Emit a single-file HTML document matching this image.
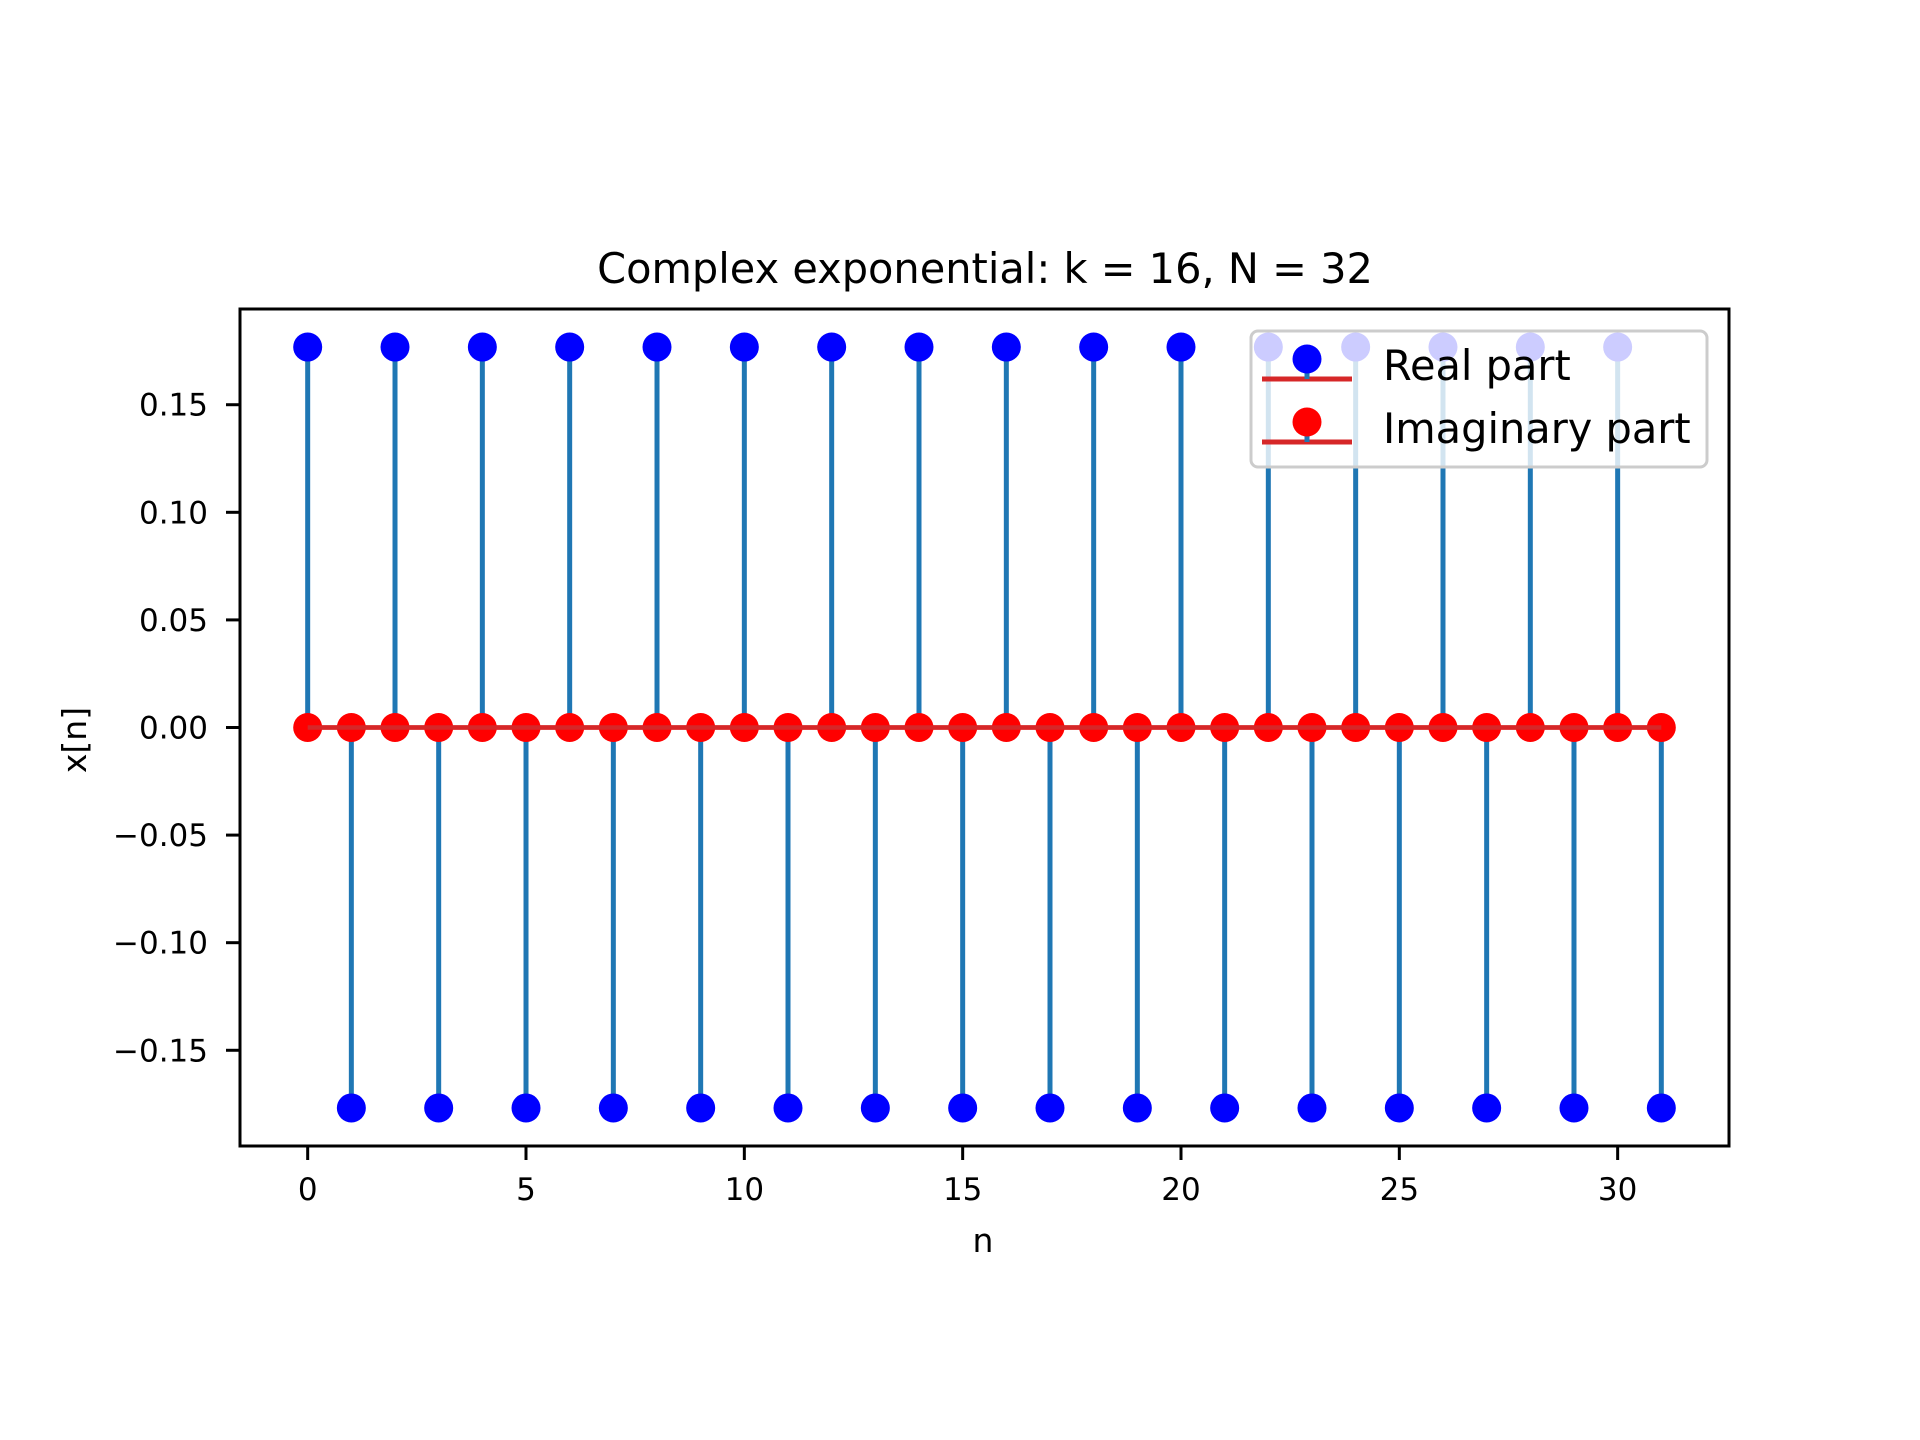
<!DOCTYPE html>
<html><head><meta charset="utf-8"><style>
html,body{margin:0;padding:0;background:#fff}
svg{display:block;font-family:"DejaVu Sans","Liberation Sans",sans-serif}
</style></head><body>
<svg id="chart" width="1920" height="1440" viewBox="0 0 1920 1440" xmlns="http://www.w3.org/2000/svg">
<rect width="1920" height="1440" fill="#fff"/>
<text x="985" y="283" font-size="41.5" text-anchor="middle">Complex exponential: k = 16, N = 32</text>
<g id="plot"></g>
<g id="axes"></g>
<text x="983" y="1252" font-size="33" text-anchor="middle">n</text>
<text transform="translate(86,740) rotate(-90)" font-size="33" text-anchor="middle">x[n]</text>
<g id="legend">
  <rect x="1251" y="331" width="456" height="136" rx="7" fill="#fff" fill-opacity="0.8" stroke="#ccc" stroke-width="3"/>
  <g>
    <line x1="1262" y1="379" x2="1352" y2="379" stroke="#d62728" stroke-width="5"/>
    <line x1="1307" y1="359" x2="1307" y2="379" stroke="#1f77b4" stroke-width="5"/>
    <circle cx="1307" cy="359" r="14.5" fill="#0000ff"/>
    <text x="1383" y="380" font-size="41.5">Real part</text>
  </g>
  <g>
    <line x1="1262" y1="442" x2="1352" y2="442" stroke="#d62728" stroke-width="5"/>
    <line x1="1307" y1="422" x2="1307" y2="442" stroke="#1f77b4" stroke-width="5"/>
    <circle cx="1307" cy="422" r="14.5" fill="#ff0000"/>
    <text x="1383" y="443" font-size="41.5">Imaginary part</text>
  </g>
</g>
</svg>
<script>
const realValues = [0.1768,-0.1768,0.1768,-0.1768,0.1768,-0.1768,0.1768,-0.1768,0.1768,-0.1768,0.1768,-0.1768,0.1768,-0.1768,0.1768,-0.1768,0.1768,-0.1768,0.1768,-0.1768,0.1768,-0.1768,0.1768,-0.1768,0.1768,-0.1768,0.1768,-0.1768,0.1768,-0.1768,0.1768,-0.1768];
const imagValues = [0,0,0,0,0,0,0,0,0,0,0,0,0,0,0,0,0,0,0,0,0,0,0,0,0,0,0,0,0,0,0,0];
const xTicks = [0,5,10,15,20,25,30];
const yTicks = [-0.15,-0.10,-0.05,0.00,0.05,0.10,0.15];

const L=240,R=1729,T=309,B=1146;
const n=realValues.length;
const allV=realValues.concat(imagValues);
const vmax=Math.max(...allV,0), vmin=Math.min(...allV,0);
const ypad=(vmax-vmin)*0.05||0.01;
const y0=vmin-ypad, y1=vmax+ypad;
const xpad=(n-1)*0.05;
const x0=-xpad, x1=n-1+xpad;
const X=v=>L+(v-x0)/(x1-x0)*(R-L);
const Y=v=>B-(v-y0)/(y1-y0)*(B-T);
const NS="http://www.w3.org/2000/svg";
function mk(tag,attrs,parent){const e=document.createElementNS(NS,tag);for(const k in attrs)e.setAttribute(k,attrs[k]);parent.appendChild(e);return e;}
const plot=document.getElementById('plot');
const axes=document.getElementById('axes');
function series(vals,color,name){
  vals.forEach((v,i)=>{
    const s=mk('line',{x1:X(i),x2:X(i),y1:Y(0),y2:Y(v),stroke:'#1f77b4','stroke-width':5},plot);
    
    
  });
  vals.forEach((v,i)=>{
    const c=mk('circle',{cx:X(i),cy:Y(v),r:14.5,fill:color},plot);
    
    
  });
  const b=mk('line',{x1:X(0),x2:X(n-1),y1:Y(0),y2:Y(0),stroke:'#d62728','stroke-width':4.5},plot);
  
  
}
series(realValues,'#0000ff','real');
series(imagValues,'#ff0000','imag');
const frame=mk('rect',{x:L,y:T,width:R-L,height:B-T,fill:'none',stroke:'#000','stroke-width':3},axes);


xTicks.forEach(t=>{
  const tk=mk('line',{x1:X(t),x2:X(t),y1:B,y2:B+14,stroke:'#000','stroke-width':3},axes);
  
  
  const tx=mk('text',{x:X(t),y:1200,'font-size':31,'text-anchor':'middle'},axes);
  tx.textContent=String(t);
  
  
});
yTicks.forEach(t=>{
  const tk=mk('line',{x1:L-14,x2:L,y1:Y(t),y2:Y(t),stroke:'#000','stroke-width':3},axes);
  
  
  const tx=mk('text',{x:208,y:Y(t)+11,'font-size':31,'text-anchor':'end'},axes);
  tx.textContent=(t<0?'\u2212':'')+Math.abs(t).toFixed(2);
  
  
});
</script>
</body></html>
